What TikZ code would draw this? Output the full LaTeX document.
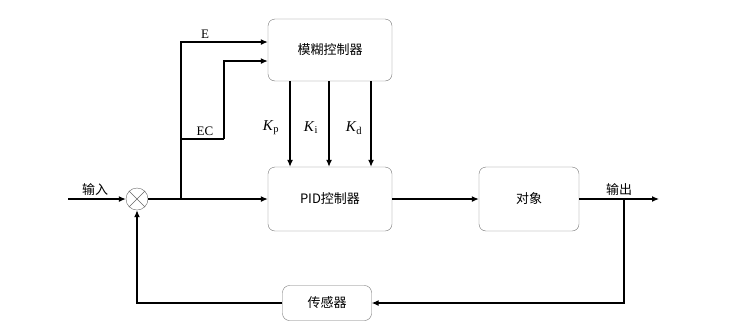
\documentclass[tikz,border=0pt]{standalone}
\usepackage{fontspec}
\setmainfont{Liberation Serif}
\newfontfamily\cjk{Noto Sans CJK SC}
\usetikzlibrary{arrows.meta}

\begin{document}
\begin{tikzpicture}[x=1pt,y=-1pt,
  block/.style={draw=black!55,rounded corners=7pt,minimum width=124pt,minimum height=62pt,
    font=\cjk\fontsize{13}{15}\selectfont},
  flow/.style={line width=1.2pt,-{Latex[length=7pt,width=6pt]}},
  wire/.style={line width=1.2pt},
  lbl/.style={font=\fontsize{13}{15}\selectfont,inner sep=1pt}]
\useasboundingbox (0,0) rectangle (754,333);
% blocks
\node[block] (fuzzy) at (330,50) {模糊控制器};
\node[block,minimum height=64pt] (pid) at (330,199) {PID控制器};
\node[block,minimum width=100pt,minimum height=64pt] (plant) at (529,199) {对象};
\node[block,minimum width=89pt,minimum height=35pt] (sensor) at (327,303) {传感器};
\node[draw=black!60,circle,minimum size=22pt,inner sep=0pt] (sum) at (137,199) {};
\draw[black!60] (sum.north west) -- (sum.south east) (sum.north east) -- (sum.south west);
% points on the wires
\coordinate (in) at (68,199);
\coordinate (split) at (181,199);
\coordinate (ecfrom) at (181,139);
\coordinate (ecbend) at (224,139);
\coordinate (tap) at (624,199);
\coordinate (out) at (659,199);
% main path
\draw[flow] (in) -- (sum.west);
\draw[flow] (sum.east) -- (pid.west);
\draw[flow] (pid.east) -- (plant.west);
\draw[flow] (plant.east) -- (out);
\draw[flow] (tap) |- (sensor.east);
\draw[flow] (sensor.west) -| (sum.south);
% fuzzy inputs
\draw[flow] (split) |- ([yshift=8pt]fuzzy.west);
\draw[wire] (ecfrom) -- (ecbend);
\draw[flow] (ecbend) |- ([yshift=-11pt]fuzzy.west);
% gains
\draw[flow] ([xshift=-40pt]fuzzy.south) -- ([xshift=-40pt]pid.north);
\draw[flow] ([xshift=-1pt]fuzzy.south) -- ([xshift=-1pt]pid.north);
\draw[flow] ([xshift=41pt]fuzzy.south) -- ([xshift=41pt]pid.north);
% labels
\node[lbl,above] (inlbl) at (95,197) {\cjk 输入};
\node[lbl,above] (outlbl) at (619,197) {\cjk 输出};
\node[lbl,above] (elbl) at (205,40) {E};
\node[lbl,above] (eclbl) at (205,137) {EC};
\node[lbl] (kp) at (271,128) {\fontsize{15}{17}\selectfont\textit{K}\textsubscript{p}};
\node[lbl] (ki) at (311,128) {\fontsize{15}{17}\selectfont\textit{K}\textsubscript{i}};
\node[lbl] (kd) at (354,128) {\fontsize{15}{17}\selectfont\textit{K}\textsubscript{d}};
\end{tikzpicture}
\end{document}
